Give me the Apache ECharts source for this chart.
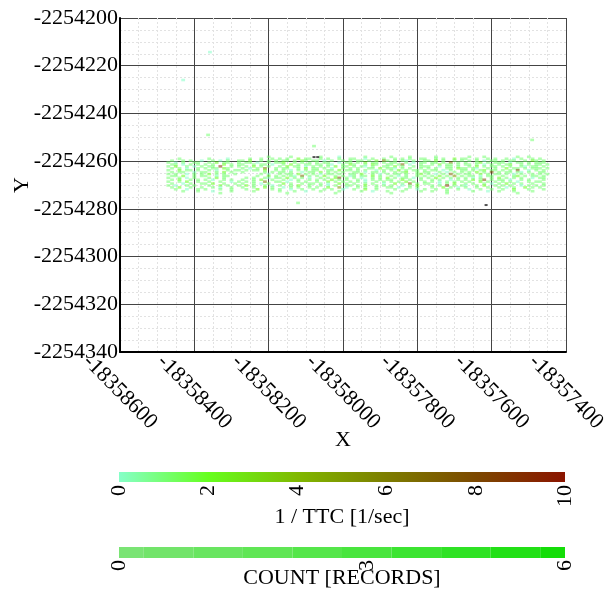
<!DOCTYPE html>
<html>
<head>
<meta charset="utf-8">
<script src="https://cdn.jsdelivr.net/npm/echarts@6/dist/echarts.min.js"></script>
<style>
  html, body { margin: 0; padding: 0; background: #ffffff; }
  #chart { width: 611px; height: 594px; }
</style>
</head>
<body>
<div id="chart"></div>
<script>
// ---- Axis ranges (map coordinates, metres) ----
const xRange = [-18358600, -18357400];
const xStep = 200;
const yRange = [-2254340, -2254200];
const yStep = 20;

// ---- Conflict records, laid out on a 10 m x 0.8 m sampling lattice ----
// Each character is one record; the digit is its 1/TTC class, '.' = no record.
const colX0 = -18358470;
const colStep = 10;
const rowYs = [
  -2254258.2, -2254259.0, -2254259.8, -2254260.6, -2254261.4,
  -2254262.2, -2254263.0, -2254263.8, -2254264.6, -2254265.4,
  -2254266.2, -2254267.0, -2254267.8, -2254268.6, -2254269.4,
  -2254270.2, -2254271.0, -2254271.8, -2254272.6, -2254273.4
];
const recordRows = [
  ".......... .......... .......1.. ...1...... .1....0... ...1...... 1....1.... ..1....... .1...1.... ....1..1.. ...",
  "...1...... .1....0... ..1..1..1. 1.1..2.11. .1.1..1..1 1..0.1..1. .1.1.1..11 ..1.1..2.1 1..1..1.1. .1.0.1..1. 1..",
  ".1..1.1..0 ..1.0.1..1 1.2..1.1.1 .11.1.21.1 1.0.1..1.1 .11.1.2.61 .1.10.1..1 1.2.1..1.1 .1.1.0.11. 1.11..1.21 .1.",
  "1.0.1..11. .1.2.11..1 .11.0..1.1 12..1.1.1. 1.11..0.11 .1.2.11.1. 11..1.0.11 .11.1.6.1. 1..12.1.11 1.0.11.1.1 11.",
  ".11.0.1.1. 1.1..2.1.1 1..1.11.0. .1.2.1.11. 11.10..1.2 1..1.21..1 1.17.0..1. .1.2.11.1. 11.1.0.1.1 .12..1.1.1 1.1",
  "1.2..1.0.1 .11.9..1.1 .1.2.1.1.. 1.2.11.0.1 .1.1.2.11. 1.10.1..11 .2.1..1.11 1..0.11.1. .1.2.1.11. 1.1..10.11 .1.",
  ".1.1.0..1. 1.11.21... 1.0.1.6..1 .11..1.2.1 1.1.0..1.1 .1..11.2.1 10.1.1..1. 1.1..11.21 1.10..1.1. .2.11.1.11 1.1",
  "1..2.11.1. .1.0..1.11 .1.11.2..1 .1.0.1.1.1 1..11.2.11 .1.1..0.1. 1.2.1.11.1 .11.0.1..1 1.1.12.11. 1.1.8..0.1 .1.",
  ".1.11..0.1 1..1.2.1.. 1.....1.1. 11.1..0.11 .2.1.1.1.. 11.0.11.1. .1.12..1.1 1..1.0.1.1 .1.2.1.8.1 .11.10.1.. 11.",
  "1.1..0.1.1 .2.1.1..1. .....1.0.. 1.11.2.1.1 .0.11.1..1 1.2..1.0.1 .11.1..12. 1.0.1.7.1. 11..2.1.11 .1.0.1..1. 1.1",
  ".11.2..1.1 1..0.11... ....1..2.1 .1.10.7.1. 1.2..1.1.0 1.11.2.1.. 1.0.1..1.1 .1.2.1.5.1 .11.0.11.. 1..12.1.11 .1.",
  "1..1.0.1.. .1.2.1.... .1.1..10.1 1.2.1.1.0. .1.1.28.1. 1.0..1.1.2 .1.11.0.1. 1.2.1.1.1. 1.0.1..1.2 .1.1.1..0. 11.",
  ".1.2..1.1. 1.0..1.1.. 1..1.2..1. .1.0.1..1. 1.1.2.1.1. .1.0.1.1.1 1..2.1..1. .1.1..0.1. 1.2.18.1.1 1.0..1.1.. .1.",
  "1..1.2..1. .1..1..0.1 .1.1..6..1 1.0..1.1.. 1..2.1.1.1 .1.0..1.1. 1.1.2.1..1 .1.0.1.1.1 .1..2.1.1. 1.1.0..1.1 1..",
  ".1..0.1..1 1.2..1..1. 1..1.0.1.. .2.1..1.11 .1.0..2.1. 1..1.1..0. .2.1.7.1.1 1..0.1.2.. 1.1..1.0.1 .2.1.1..1. .1.",
  "1.0..1.1.. .1..2.1..1 .2.1..1.0. 1..1.2..1. .1.0.1..11 .1.2..1.1. 1..0.1.2.. .1.1.9.1.1 0..1.2..1. 1.1..0.1.1 .1.",
  ".1.2..1..1 ..1.0..1.. 1..1..2.1. .0.1.1..1. 1..2..5.0. .1.1..1..1 1.0..1.1.. .1..2.1.0. 1..1..1..1 .0.1..2.1. 1..",
  "..1..0..1. 1...1..1.. .1..2...1. 1..0..1..1 ..1.1..0.. 1..2..1... .1..1..0.1 ..1..1..1. .0..1..1.. 1..2...1.. .1.",
  "....1...1. ..0....1.. ...1...... 1...1..0.. .1....1... ..1..0...1 ...1....1. .1...1.... ..1...0..1 ...1....1. ...",
  ".......... ....1..... .......... ..1....... .....1.... .......... 1......... .....1.... .......... ....1..... ..."
];
// Isolated records outside the main band: [x, y, 1/TTC]
const strayRecords = [
  [-18358430, -2254226.0, 0],
  [-18358358, -2254214.3, 0],
  [-18358363, -2254249.0, 1],
  [-18358078, -2254253.7, 1],
  [-18358121, -2254277.5, 1],
  [-18357491, -2254251.1, 1]
];
// Records flagged as severe (drawn dark)
const severeRecords = [
  [-18358078, -2254258.3],
  [-18358068, -2254258.3],
  [-18357615, -2254278.4]
];

// ---- Colour scales ----
const ttcStops = [0, 2, 4, 6, 8, 10];
const ttcColors = ['#86ffc8', '#66ff1e', '#80b800', '#7d7d00', '#7c4800', '#8b1400'];
const ttcTicks = [0, 10];
const countLevels = [0, 0.667, 1.333, 2, 2.667, 3.333, 4, 4.667, 5.333, 6];
const countColors = ['#7ae474', '#72e46a', '#69e560', '#60e655', '#55e64a',
                     '#49e53e', '#3ce431', '#2fe224', '#22e016', '#14dd08'];
const countTicks = [0, 3.333, 6];

// ---- Build series data ----
const points = [];
recordRows.forEach(function (row, k) {
  const cells = row.replace(/ /g, '');
  for (let i = 0; i < cells.length; i++) {
    const ch = cells[i];
    if (ch !== '.') points.push([colX0 + i * colStep, rowYs[k], Number(ch)]);
  }
});
strayRecords.forEach(function (r) { points.push(r); });

const countSegments = countLevels.map(function (v, i) {
  const lo = i === 0 ? countLevels[0] : (countLevels[i - 1] + v) / 2;
  const hi = i === countLevels.length - 1 ? v : (v + countLevels[i + 1]) / 2;
  return [lo, hi, i];
});

const FONT = 'Liberation Serif';
const txt = { fontFamily: FONT, fontSize: 22, color: '#000' };

function barRect(api, fill) {
  const p0 = api.coord([api.value(0), 0]);
  const p1 = api.coord([api.value(1), 0]);
  const h = api.size([0, 1])[1];
  return {
    type: 'rect',
    shape: { x: p0[0], y: p0[1] - h / 2, width: p1[0] - p0[0], height: h },
    style: { fill: fill }
  };
}

const gridBase = { containLabel: false, outerBoundsMode: 'none' };

const chart = echarts.init(document.getElementById('chart'), null, { renderer: 'canvas' });
chart.setOption({
  animation: false,
  backgroundColor: '#ffffff',
  grid: [
    Object.assign({ left: 120, top: 18, width: 446, height: 334 }, gridBase),
    Object.assign({ left: 119, top: 472, width: 446, height: 10 }, gridBase),
    Object.assign({ left: 119, top: 547, width: 446, height: 11 }, gridBase)
  ],
  xAxis: [
    {
      gridIndex: 0, type: 'value', min: xRange[0], max: xRange[1], interval: xStep,
      name: 'X', nameLocation: 'middle', nameGap: 77, nameMoveOverlap: false, nameTextStyle: txt,
      axisLine: { show: true, onZero: false, lineStyle: { color: '#000', width: 2 } },
      axisTick: { show: false },
      axisLabel: Object.assign({
        rotate: -45, align: 'center', verticalAlign: 'middle', margin: 40,
        showMinLabel: true, showMaxLabel: true,
        formatter: function (v) { return String(v); }
      }, txt),
      splitLine: { show: true, lineStyle: { color: '#444', width: 1 } },
      minorTick: { show: false, splitNumber: 4 },
      minorSplitLine: { show: true, lineStyle: { color: '#e2e2e2', width: 1, type: [2, 2] } }
    },
    {
      gridIndex: 1, type: 'value', min: 0, max: 10, interval: 2,
      name: '1 / TTC [1/sec]', nameLocation: 'middle', nameGap: 24, nameMoveOverlap: false, nameTextStyle: txt,
      axisLine: { show: false }, axisTick: { show: false }, splitLine: { show: false },
      axisLabel: Object.assign({ rotate: 90, margin: 3, showMinLabel: true, showMaxLabel: true }, txt)
    },
    {
      gridIndex: 2, type: 'value', min: 0, max: 6,
      name: 'COUNT [RECORDS]', nameLocation: 'middle', nameGap: 9, nameMoveOverlap: false, nameTextStyle: txt,
      axisLine: { show: false }, axisTick: { show: false }, splitLine: { show: false },
      axisLabel: Object.assign({
        rotate: 90, margin: 2, customValues: countTicks,
        formatter: function (v) { return String(Math.round(v)); }
      }, txt)
    }
  ],
  yAxis: [
    {
      gridIndex: 0, type: 'value', min: yRange[0], max: yRange[1], interval: yStep,
      name: 'Y', nameLocation: 'middle', nameGap: 87, nameRotate: 90, nameMoveOverlap: false, nameTextStyle: txt,
      axisLine: { show: true, onZero: false, lineStyle: { color: '#000', width: 2 } },
      axisTick: { show: false },
      axisLabel: Object.assign({ margin: 2, formatter: function (v) { return String(v); } }, txt),
      splitLine: { show: true, lineStyle: { color: '#444', width: 1 } },
      minorTick: { show: false, splitNumber: 4 },
      minorSplitLine: { show: true, lineStyle: { color: '#e2e2e2', width: 1, type: [2, 2] } }
    },
    { gridIndex: 1, type: 'category', data: ['bar'], show: false },
    { gridIndex: 2, type: 'category', data: ['bar'], show: false }
  ],
  visualMap: [{
    type: 'continuous', show: false, seriesIndex: 0, dimension: 2,
    min: ttcStops[0], max: ttcStops[ttcStops.length - 1],
    inRange: { color: ttcColors }
  }],
  series: [
    {
      type: 'scatter', xAxisIndex: 0, yAxisIndex: 0,
      symbol: 'rect', symbolSize: [3.8, 2.6],
      itemStyle: { opacity: 0.55 },
      data: points
    },
    {
      type: 'scatter', xAxisIndex: 0, yAxisIndex: 0,
      symbol: 'rect', symbolSize: [3, 2],
      itemStyle: { color: '#333333', opacity: 0.85 },
      data: severeRecords
    },
    {
      type: 'custom', xAxisIndex: 1, yAxisIndex: 1, coordinateSystem: 'cartesian2d',
      data: [[ttcTicks[0], ttcTicks[1]]],
      renderItem: function (params, api) {
        const stops = ttcStops.map(function (s, i) {
          return { offset: s / ttcStops[ttcStops.length - 1], color: ttcColors[i] };
        });
        return barRect(api, new echarts.graphic.LinearGradient(0, 0, 1, 0, stops));
      }
    },
    {
      type: 'custom', xAxisIndex: 2, yAxisIndex: 2, coordinateSystem: 'cartesian2d',
      data: countSegments,
      renderItem: function (params, api) {
        return barRect(api, countColors[api.value(2)]);
      }
    }
  ]
});
</script>
</body>
</html>
